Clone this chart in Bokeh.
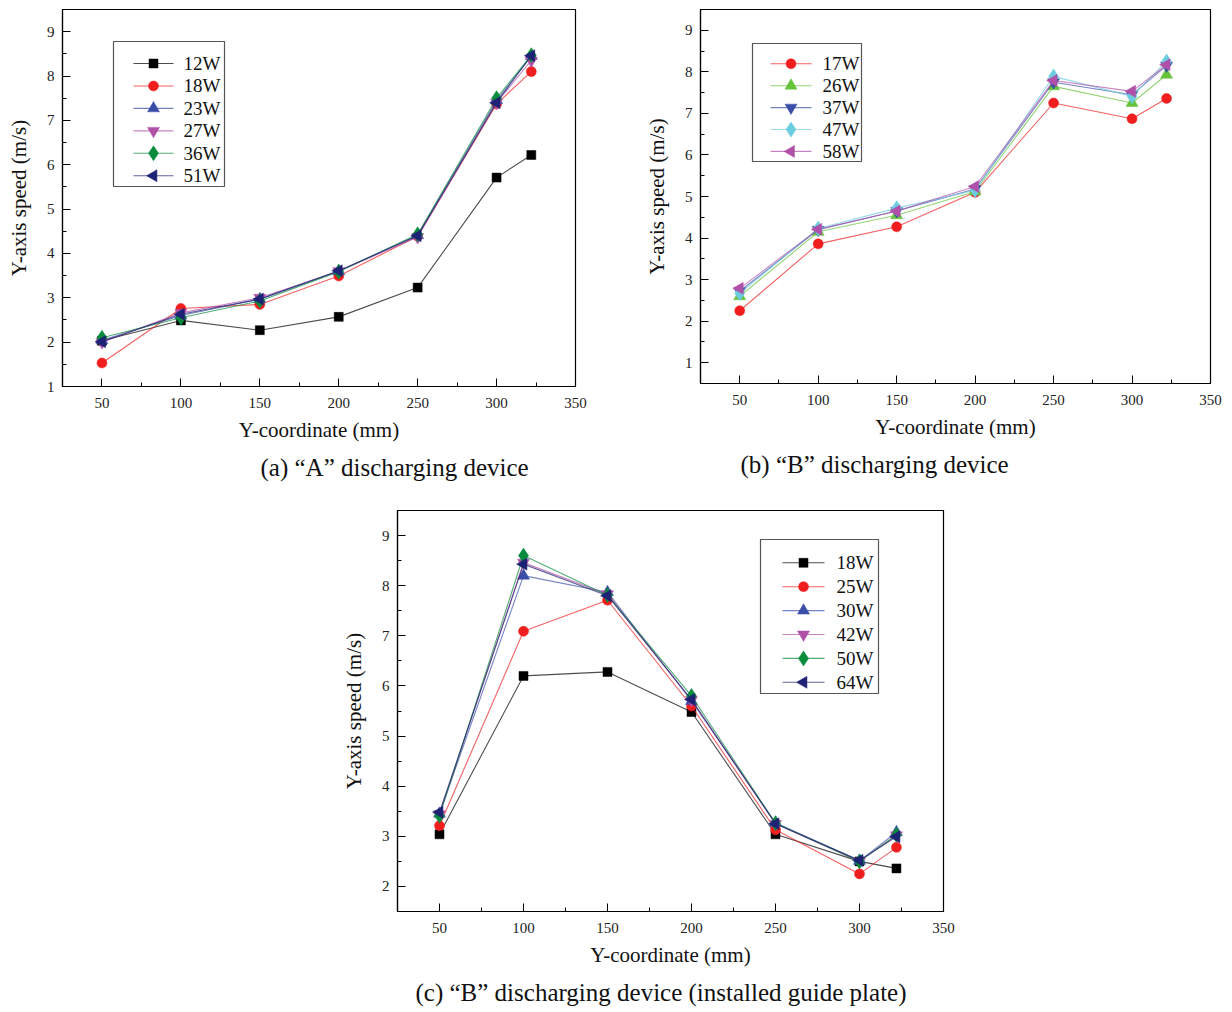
import math
from bokeh.plotting import figure
from bokeh.models import FixedTicker, Title, Range1d
from bokeh.layouts import column, row
from bokeh.embed import file_html
from bokeh.resources import INLINE
from bokeh.core.properties import value

# ---------------- data ----------------
x_pos = [50, 100, 150, 200, 250, 300, 322]
x_ticks = [50, 100, 150, 200, 250, 300, 350]

# (a) "A" discharging device
a_labels = ["12W", "18W", "23W", "27W", "36W", "51W"]
a_12W = [2.03, 2.49, 2.27, 2.57, 3.23, 5.71, 6.22]
a_18W = [1.53, 2.76, 2.85, 3.49, 4.39, 7.37, 8.10]
a_23W = [2.04, 2.60, 2.97, 3.60, 4.41, 7.45, 8.45]
a_27W = [2.00, 2.66, 3.00, 3.60, 4.37, 7.40, 8.35]
a_36W = [2.10, 2.55, 2.93, 3.59, 4.43, 7.50, 8.47]
a_51W = [2.01, 2.63, 2.97, 3.61, 4.40, 7.40, 8.46]

# (b) "B" discharging device
b_labels = ["17W", "26W", "37W", "47W", "58W"]
b_17W = [2.25, 3.86, 4.27, 5.10, 7.25, 6.87, 7.36]
b_26W = [2.60, 4.15, 4.55, 5.12, 7.65, 7.25, 7.93]
b_37W = [2.72, 4.20, 4.65, 5.18, 7.75, 7.45, 8.15]
b_47W = [2.67, 4.23, 4.72, 5.15, 7.89, 7.41, 8.25]
b_58W = [2.79, 4.21, 4.65, 5.24, 7.79, 7.53, 8.17]

# (c) "B" discharging device (installed guide plate)
c_labels = ["18W", "25W", "30W", "42W", "50W", "64W"]
c_18W = [3.04, 6.20, 6.28, 5.48, 3.04, 2.50, 2.36]
c_25W = [3.21, 7.09, 7.71, 5.60, 3.13, 2.25, 2.78]
c_30W = [3.45, 8.20, 7.87, 5.70, 3.27, 2.51, 3.08]
c_42W = [3.44, 8.46, 7.83, 5.72, 3.25, 2.50, 3.02]
c_50W = [3.41, 8.60, 7.81, 5.80, 3.26, 2.50, 3.03]
c_64W = [3.48, 8.43, 7.80, 5.73, 3.25, 2.52, 2.99]

# ---------------- styles ----------------
FONT = "Liberation Serif"
BLACK = "#000000"
RED = "#F01E1E"
BLUE = "#3A4EA8"
MAGENTA = "#B050A8"
GREEN = "#0A8A3C"
NAVY = "#1E2274"
LGREEN = "#66C23A"
CYAN = "#6CCCE0"

SQ = ("square", 9, 0)
CI = ("circle", 10, 0)
TU = ("triangle", 12, 0)
TD = ("inverted_triangle", 12, 0)
DI = ("diamond", 15, 0)
TL = ("triangle", 12, math.pi / 2)


def make_panel(series, labels, colors, markers, yrange, yticks,
               frame, borders, caption, cap_offset, leg):
    fw, fh = frame
    bl, br, bt, bb = borders
    x0, x1 = 25, 350
    y0, y1 = yrange
    p = figure(frame_width=fw, frame_height=fh,
               min_border_left=bl, min_border_right=br,
               min_border_top=bt, min_border_bottom=bb,
               x_range=Range1d(x0, x1), y_range=Range1d(y0, y1),
               output_backend="svg", toolbar_location=None)
    p.xgrid.visible = False
    p.ygrid.visible = False
    p.outline_line_color = "black"
    p.outline_line_width = 1.2
    p.outline_line_alpha = 1
    p.background_fill_color = "white"
    p.border_fill_color = "white"

    xminor = [25 + 50 * i for i in range(7)]
    p.xaxis.ticker = FixedTicker(ticks=x_ticks, minor_ticks=xminor)
    yminor = [v + 0.5 for v in yticks] + [yticks[0] - 0.5]
    p.yaxis.ticker = FixedTicker(ticks=yticks,
                                 minor_ticks=[m for m in yminor if y0 <= m <= y1])

    for ax in (p.xaxis[0], p.yaxis[0]):
        ax.major_tick_in = 8
        ax.major_tick_out = 0
        ax.minor_tick_in = 4
        ax.minor_tick_out = 0
        ax.axis_line_color = "black"
        ax.axis_line_width = 1.2
        ax.major_tick_line_color = "black"
        ax.minor_tick_line_color = "black"
        ax.major_label_text_font = FONT
        ax.major_label_text_font_size = "15px"
        ax.major_label_text_color = "#222222"
        ax.axis_label_text_font = FONT
        ax.axis_label_text_font_size = "21px"
        ax.axis_label_text_font_style = "normal"
        ax.axis_label_text_color = "#111111"
    p.xaxis.axis_label = "Y-coordinate (mm)"
    p.yaxis.axis_label = "Y-axis speed (m/s)"
    p.xaxis.major_label_standoff = 11
    p.xaxis.axis_label_standoff = 7
    p.yaxis.major_label_standoff = 8
    p.yaxis.axis_label_standoff = 13

    for ys, col, mk in zip(series, colors, markers):
        kind, size, ang = mk
        p.line(x_pos, ys, line_color=col, line_width=1.1, line_alpha=0.7)
        p.scatter(x_pos, ys, marker=kind, size=size, angle=ang,
                  fill_color=col, line_color=col, line_width=0.5)

    # ---- legend drawn manually (pixel layout converted to data space) ----
    sx = (x1 - x0) / fw
    sy = (y1 - y0) / fh
    X = lambda px: x0 + px * sx
    Y = lambda py: y1 - py * sy
    bx0, by0, bx1, by1 = leg["box"]
    p.quad(left=X(bx0), right=X(bx1), top=Y(by0), bottom=Y(by1),
           fill_color="white", line_color="#555555", line_width=1.2)
    lx0, lx1 = leg["line"]
    for i, (lab, col, mk) in enumerate(zip(labels, colors, markers)):
        kind, size, ang = mk
        yy = Y(leg["row0"] + i * leg["step"])
        p.line([X(lx0), X(lx1)], [yy, yy], line_color=col, line_width=1.1, line_alpha=0.7)
        p.scatter([X((lx0 + lx1) / 2)], [yy], marker=kind, size=size, angle=ang,
                  fill_color=col, line_color=col, line_width=0.5)
        p.text([X(leg["text"])], [yy], text=[lab], text_font=value(FONT),
               text_font_size="19px", text_baseline="middle", text_align="left",
               text_color="#111111")

    t = Title(text=caption, align="left", offset=cap_offset,
              text_font=FONT, text_font_size="25px", text_font_style="normal",
              text_color="#111111", standoff=14)
    p.add_layout(t, "below")
    return p


pa = make_panel([a_12W, a_18W, a_23W, a_27W, a_36W, a_51W], a_labels,
                [BLACK, RED, BLUE, MAGENTA, GREEN, NAVY],
                [SQ, CI, TU, TD, DI, TL],
                (1, 9.5), list(range(1, 10)),
                (513, 377), (62, 65, 9, 104),
                "(a) \u201cA\u201d discharging device", 198,
                dict(box=(51, 32, 162, 177), row0=54, step=22.45,
                     line=(71, 111), text=121))

pb = make_panel([b_17W, b_26W, b_37W, b_47W, b_58W], b_labels,
                [RED, LGREEN, BLUE, CYAN, MAGENTA],
                [CI, TU, TD, DI, TL],
                (0.5, 9.5), list(range(1, 10)),
                (510, 374), (60, 22, 8, 108),
                "(b) \u201cB\u201d discharging device", 40,
                dict(box=(52, 34, 161, 152), row0=54.3, step=21.9,
                     line=(70, 111), text=122))

pc = make_panel([c_18W, c_25W, c_30W, c_42W, c_50W, c_64W], c_labels,
                [BLACK, RED, BLUE, MAGENTA, GREEN, NAVY],
                [SQ, CI, TU, TD, DI, TL],
                (1.5, 9.5), list(range(2, 10)),
                (546, 401), (397, 289, 20, 101),
                "(c) \u201cB\u201d discharging device (installed guide plate)", 18,
                dict(box=(363, 29, 481, 183), row0=52.3, step=23.9,
                     line=(385, 427), text=439))

layout = column(row(pa, pb, spacing=0), pc, spacing=0)

with open("out.html", "w") as f:
    f.write(file_html(layout, INLINE))
